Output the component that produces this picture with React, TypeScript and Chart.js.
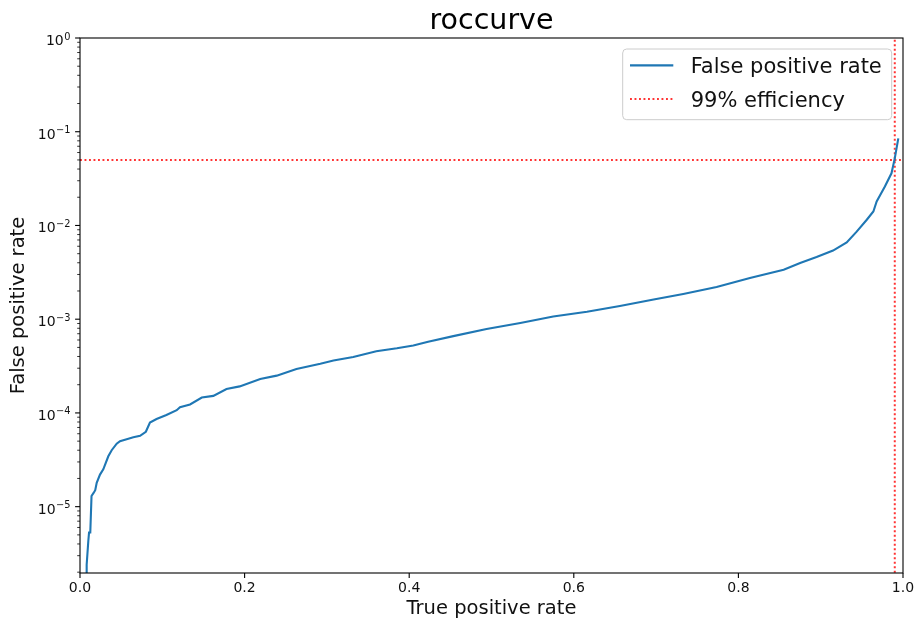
import React, { useEffect, useRef } from "react";
import { Chart, registerables } from "chart.js";

Chart.register(...registerables);

// ROC curve: true positive rate (x) vs. false positive rate (y, log scale)
const tpr = [
  0.008, 0.0081, 0.0101, 0.011, 0.0125, 0.014, 0.0165, 0.0185, 0.0203, 0.0243,
  0.0283, 0.0344, 0.0385, 0.0446, 0.0486, 0.0567, 0.0648, 0.073, 0.08, 0.085,
  0.093, 0.105, 0.1175, 0.1215, 0.1337, 0.148, 0.162, 0.178, 0.194, 0.219,
  0.239, 0.263, 0.292, 0.308, 0.332, 0.36, 0.385, 0.405, 0.423, 0.4536,
  0.494, 0.535, 0.575, 0.616, 0.656, 0.697, 0.733, 0.7735, 0.814, 0.855,
  0.875, 0.895, 0.915, 0.9316, 0.9437, 0.956, 0.964, 0.968, 0.978, 0.986,
  0.99, 0.9943,
];
const fpr = [
  1.0e-6, 2.4e-6, 4.3e-6, 5.3e-6, 5.3e-6, 1.3e-5, 1.4e-5, 1.5e-5, 1.8e-5, 2.2e-5,
  2.5e-5, 3.45e-5, 4.0e-5, 4.7e-5, 5.0e-5, 5.25e-5, 5.5e-5, 5.7e-5, 6.3e-5, 7.9e-5,
  8.6e-5, 9.5e-5, 1.07e-4, 1.15e-4, 1.23e-4, 1.46e-4, 1.52e-4, 1.8e-4, 1.92e-4, 2.3e-4,
  2.5e-4, 2.94e-4, 3.35e-4, 3.63e-4, 3.95e-4, 4.55e-4, 4.9e-4, 5.25e-4, 5.75e-4, 6.6e-4,
  7.85e-4, 9.1e-4, 1.07e-3, 1.2e-3, 1.38e-3, 1.62e-3, 1.86e-3, 2.2e-3, 2.75e-3, 3.37e-3,
  3.98e-3, 4.6e-3, 5.4e-3, 6.6e-3, 8.6e-3, 1.15e-2, 1.41e-2, 1.8e-2, 2.6e-2, 3.6e-2,
  5.2e-2, 8.5e-2,
];

// 99% efficiency working point
const efficiencyTpr = 0.99;
const efficiencyFpr = 0.05;

const xTicks = [0, 0.2, 0.4, 0.6, 0.8, 1.0];
const xTickLabels = ["0.0", "0.2", "0.4", "0.6", "0.8", "1.0"];
const yDecades = [0, -1, -2, -3, -4, -5];
const yMin = 1.96e-6;
const yMax = 1;

const titleText = "roccurve";
const xLabel = "True positive rate";
const yLabel = "False positive rate";
const seriesLabels = ["False positive rate", "99% efficiency"];

const FONT = '"DejaVu Sans", sans-serif';

const decorPlugin = {
  id: "rocDecor",
  afterDraw(chart: any) {
    const { ctx, chartArea: a, scales } = chart;
    const xs = scales.x;
    const ys = scales.y;
    ctx.save();

    // frame
    ctx.strokeStyle = "#000";
    ctx.lineWidth = 1.1;
    ctx.strokeRect(a.left, a.top, a.right - a.left, a.bottom - a.top);

    // x ticks and labels
    ctx.fillStyle = "#111";
    ctx.font = `14px ${FONT}`;
    ctx.textAlign = "center";
    ctx.textBaseline = "alphabetic";
    xTicks.forEach((v, i) => {
      const px = xs.getPixelForValue(v);
      ctx.beginPath();
      ctx.moveTo(px, a.bottom);
      ctx.lineTo(px, a.bottom + 4.9);
      ctx.stroke();
      ctx.fillText(xTickLabels[i], px, a.bottom + 18.5);
    });

    // y minor ticks
    ctx.lineWidth = 0.8;
    for (let d = -6; d <= -1; d++) {
      for (let m = 2; m <= 9; m++) {
        const v = m * Math.pow(10, d);
        if (v < yMin || v > yMax) continue;
        const py = ys.getPixelForValue(v);
        ctx.beginPath();
        ctx.moveTo(a.left, py);
        ctx.lineTo(a.left - 2.8, py);
        ctx.stroke();
      }
    }

    // y major ticks with 10^n labels
    ctx.lineWidth = 1.1;
    ctx.textAlign = "left";
    yDecades.forEach((d) => {
      const py = ys.getPixelForValue(Math.pow(10, d));
      ctx.beginPath();
      ctx.moveTo(a.left, py);
      ctx.lineTo(a.left - 4.9, py);
      ctx.stroke();
      const base = "10";
      const sup = d < 0 ? "\u2212" + String(-d) : String(d);
      ctx.font = `14px ${FONT}`;
      const bw = ctx.measureText(base).width;
      ctx.font = `9.8px ${FONT}`;
      const sw = ctx.measureText(sup).width;
      const x0 = a.left - 10 - sw - bw;
      ctx.font = `14px ${FONT}`;
      ctx.fillText(base, x0, py + 7);
      ctx.font = `9.8px ${FONT}`;
      ctx.fillText(sup, x0 + bw + 0.5, py + 1.5);
    });

    // title
    ctx.fillStyle = "#000";
    ctx.font = `28.5px ${FONT}`;
    ctx.textAlign = "center";
    ctx.fillText(titleText, (a.left + a.right) / 2, a.top - 8.6);

    // legend
    const bx = a.right - 280.3;
    const by = a.top + 11;
    const bwid = 269;
    const bh = 70.7;
    ctx.beginPath();
    ctx.roundRect(bx, by, bwid, bh, 4);
    ctx.fillStyle = "rgba(255,255,255,0.8)";
    ctx.fill();
    ctx.strokeStyle = "#cccccc";
    ctx.lineWidth = 1;
    ctx.stroke();
    ctx.font = `21px ${FONT}`;
    ctx.textAlign = "left";
    chart.data.datasets.forEach((ds: any, i: number) => {
      const ry = by + 16.4 + i * 33.6;
      ctx.save();
      ctx.strokeStyle = ds.borderColor;
      ctx.lineWidth = ds.borderWidth;
      ctx.setLineDash(ds.borderDash || []);
      ctx.beginPath();
      ctx.moveTo(bx + 7.3, ry);
      ctx.lineTo(bx + 50.6, ry);
      ctx.stroke();
      ctx.restore();
      ctx.fillStyle = "#111";
      ctx.fillText(ds.label, bx + 68, ry + 8);
    });

    ctx.restore();
  },
};

export default function App() {
  const ref = useRef<HTMLCanvasElement | null>(null);

  useEffect(() => {
    if (!ref.current) return;
    const chart = new Chart(ref.current, {
      type: "line",
      data: {
        datasets: [
          {
            label: seriesLabels[0],
            data: tpr.map((x, i) => ({ x, y: fpr[i] })),
            borderColor: "#1f77b4",
            borderWidth: 2.1,
            pointRadius: 0,
            tension: 0,
            fill: false,
          },
          {
            label: seriesLabels[1],
            data: [
              { x: 0, y: efficiencyFpr },
              { x: 1, y: efficiencyFpr },
              { x: efficiencyTpr, y: null },
              { x: efficiencyTpr, y: 1e-7 },
              { x: efficiencyTpr, y: 10 },
            ],
            borderColor: "rgba(255,0,0,0.8)",
            borderWidth: 2,
            borderDash: [1.9, 2.6],
            pointRadius: 0,
            tension: 0,
            spanGaps: false,
            fill: false,
          },
        ] as any,
      },
      options: {
        animation: false,
        responsive: false,
        devicePixelRatio: 1,
        layout: { padding: { top: 38, right: 12, left: 0, bottom: 0 } },
        plugins: {
          legend: { display: false },
          title: { display: false },
          tooltip: { enabled: false },
        },
        scales: {
          x: {
            type: "linear",
            min: 0,
            max: 1,
            grid: { display: false },
            border: { display: false },
            ticks: { display: false },
            title: {
              display: true,
              text: xLabel,
              color: "#111",
              font: { family: FONT, size: 19.5 },
              padding: { top: 0.3, bottom: 0 },
            },
            afterFit: (s: any) => {
              s.height = 48;
            },
          },
          y: {
            type: "logarithmic",
            min: yMin,
            max: yMax,
            grid: { display: false },
            border: { display: false },
            ticks: { display: false },
            title: {
              display: true,
              text: yLabel,
              color: "#111",
              font: { family: FONT, size: 19.5 },
              padding: { top: 6.8, bottom: 0 },
            },
            afterFit: (s: any) => {
              s.width = 80;
            },
          },
        },
      },
      plugins: [decorPlugin],
    });
    return () => chart.destroy();
  }, []);

  return (
    <div style={{ position: "fixed", left: 0, top: 0, width: 915, height: 621, background: "#fff" }}>
      <canvas ref={ref} width={915} height={621} style={{ display: "block" }} />
    </div>
  );
}
